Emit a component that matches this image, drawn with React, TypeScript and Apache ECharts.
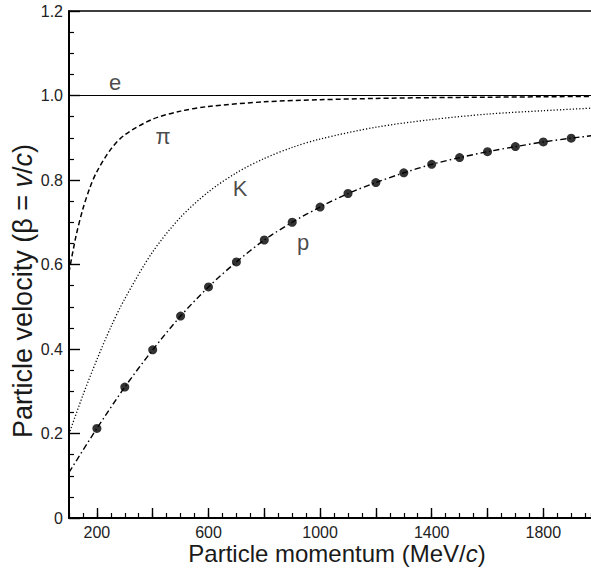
import React, { useEffect, useRef } from "react";
import * as echarts from "echarts";

const FONT = "'Liberation Sans', Arial, Helvetica, sans-serif";

const xMajorTicks = [200, 400, 600, 800, 1000, 1200, 1400, 1600, 1800];
const xTickLabels = [200, 600, 1000, 1400, 1800];

const electronP = [100, 2000];
const electronBeta = [1.0, 1.0];

const pionP = [100, 125, 150, 175, 200, 250, 300, 400, 500, 600, 800, 1000, 1200, 1400, 1600, 1800, 2000];
const pionBeta = [0.582, 0.667, 0.732, 0.782, 0.82, 0.873, 0.907, 0.944, 0.963, 0.974, 0.985, 0.99, 0.993, 0.995, 0.996, 0.997, 0.998];

const kaonP = [100, 150, 200, 250, 300, 400, 500, 600, 700, 800, 900, 1000, 1200, 1400, 1600, 1800, 2000];
const kaonBeta = [0.199, 0.291, 0.375, 0.452, 0.519, 0.63, 0.712, 0.772, 0.817, 0.851, 0.877, 0.897, 0.925, 0.943, 0.956, 0.964, 0.971];

const protonP = [100, 200, 300, 400, 500, 600, 700, 800, 900, 1000, 1100, 1200, 1300, 1400, 1500, 1600, 1700, 1800, 1900, 2000];
const protonBeta = [0.108, 0.212, 0.31, 0.398, 0.478, 0.547, 0.606, 0.658, 0.7, 0.736, 0.768, 0.794, 0.817, 0.837, 0.853, 0.867, 0.879, 0.89, 0.899, 0.907];

const dotP = [200, 300, 400, 500, 600, 700, 800, 900, 1000, 1100, 1200, 1300, 1400, 1500, 1600, 1700, 1800, 1900];
const dotBeta = [0.212, 0.31, 0.398, 0.478, 0.547, 0.606, 0.658, 0.7, 0.736, 0.768, 0.794, 0.817, 0.837, 0.853, 0.867, 0.879, 0.89, 0.899];

const curveLabels = ["e", "π", "K", "p"];
const curveLabelP = [265, 437, 713, 939];
const curveLabelBeta = [1.03, 0.902, 0.781, 0.651];

const zip = (xs: number[], ys: number[]) => xs.map((x, i) => [x, ys[i]]);

export default function App() {
  const ref = useRef<HTMLDivElement>(null);
  useEffect(() => {
    if (!ref.current) return;
    const chart = echarts.init(ref.current, null, { renderer: "svg" });
    const X_MIN = 100;
    const X_MAX = 1971;
    const lineBase = { type: "line", showSymbol: false, smooth: 0.3, silent: true, xAxisIndex: 0, yAxisIndex: 0 };
    chart.setOption({
      animation: false,
      backgroundColor: "#ffffff",
      grid: { left: 69, right: 0, top: 11, bottom: 50, containLabel: false },
      xAxis: [
        {
          type: "value",
          min: X_MIN,
          max: X_MAX,
          interval: 50,
          position: "bottom",
          splitLine: { show: false },
          axisLine: { show: true, lineStyle: { color: "#000", width: 2 } },
          axisTick: { show: true, inside: true, length: 5, lineStyle: { color: "#000", width: 1.2 } },
          axisLabel: { show: false },
        },
        {
          type: "value",
          min: X_MIN,
          max: X_MAX,
          interval: 50,
          position: "bottom",
          splitLine: { show: false },
          axisLine: { show: false },
          axisTick: {
            show: true,
            inside: true,
            length: 10,
            lineStyle: { color: "#000", width: 1.4 },
            customValues: xMajorTicks,
          },
          axisLabel: {
            show: true,
            customValues: xTickLabels,
            color: "#222",
            fontSize: 16,
            fontFamily: FONT,
            margin: 6,
            formatter: (v: number) => String(v),
          },
        },
        {
          type: "value",
          min: X_MIN,
          max: X_MAX,
          position: "top",
          splitLine: { show: false },
          axisLine: { show: true, lineStyle: { color: "#000", width: 1.5 } },
          axisTick: { show: false },
          axisLabel: { show: false },
        },
      ],
      yAxis: [
        {
          type: "value",
          min: 0,
          max: 1.2,
          interval: 0.2,
          splitLine: { show: false },
          axisLine: { show: true, lineStyle: { color: "#000", width: 2 } },
          axisTick: { show: true, inside: true, length: 11, lineStyle: { color: "#000", width: 1.4 } },
          minorTick: { show: true, splitNumber: 4, length: 5, lineStyle: { color: "#000", width: 1.2 } },
          minorSplitLine: { show: false },
          axisLabel: {
            color: "#222",
            fontSize: 16,
            fontFamily: FONT,
            margin: 6,
            formatter: (v: number) => (v === 0 ? "0" : v.toFixed(1)),
          },
        },
      ],
      graphic: [
        {
          type: "text",
          x: 23,
          y: 291,
          rotation: Math.PI / 2,
          style: {
            text: "{a|Particle velocity (β = }{i|v}{a|/}{i|c}{a|)}",
            rich: {
              a: { fontSize: 27, fontFamily: FONT, fill: "#1a1a1a" },
              i: { fontSize: 27, fontFamily: FONT, fill: "#1a1a1a", fontStyle: "italic" },
            },
            align: "center",
            verticalAlign: "middle",
          },
        },
        {
          type: "text",
          x: 337,
          y: 553,
          style: {
            text: "{a|Particle momentum (MeV/}{i|c}{a|)}",
            rich: {
              a: { fontSize: 24, fontFamily: FONT, fill: "#1a1a1a" },
              i: { fontSize: 24, fontFamily: FONT, fill: "#1a1a1a", fontStyle: "italic" },
            },
            align: "center",
            verticalAlign: "middle",
          },
        },
      ],
      series: [
        { ...lineBase, name: "e", data: zip(electronP, electronBeta), lineStyle: { color: "#000", width: 1.2, type: "solid" } },
        { ...lineBase, name: "pi", data: zip(pionP, pionBeta), lineStyle: { color: "#000", width: 1.5, type: [5, 3] } },
        { ...lineBase, name: "K", data: zip(kaonP, kaonBeta), lineStyle: { color: "#000", width: 1.3, type: [1.2, 2] } },
        { ...lineBase, name: "p", data: zip(protonP, protonBeta), lineStyle: { color: "#000", width: 1.4, type: [6, 3, 1.5, 3] } },
        {
          type: "scatter",
          name: "p data",
          data: zip(dotP, dotBeta),
          symbol: "circle",
          symbolSize: 9,
          itemStyle: { color: "#000" },
          silent: true,
        },
        {
          type: "scatter",
          name: "labels",
          data: curveLabels.map((t, i) => ({ name: t, value: [curveLabelP[i], curveLabelBeta[i]] })),
          symbolSize: 0,
          silent: true,
          label: {
            show: true,
            position: "inside",
            formatter: (p: any) => p.name,
            fontSize: 22,
            fontFamily: FONT,
            color: "#1a1a1a",
          },
        },
      ],
    });
    return () => chart.dispose();
  }, []);
  return <div ref={ref} style={{ position: "fixed", left: 0, top: 0, width: 591, height: 568 }} />;
}
